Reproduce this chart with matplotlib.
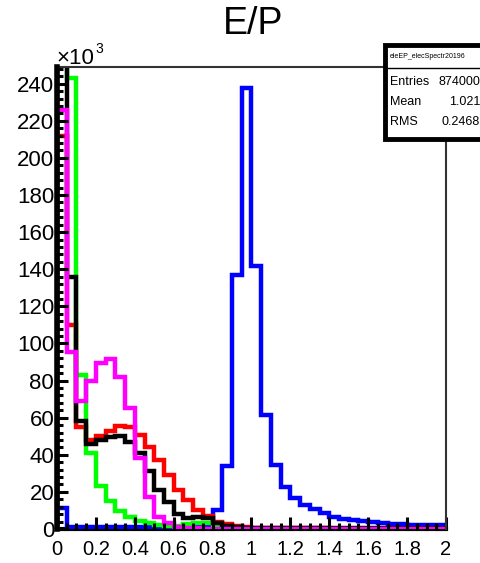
import numpy as np
import matplotlib.pyplot as plt
from matplotlib.ticker import MultipleLocator
from matplotlib.patches import Rectangle
import matplotlib as mpl
mpl.rcParams["font.family"] = ["Liberation Sans", "DejaVu Sans"]
mpl.rcParams["font.size"] = 14

# bin contents in units of 10^3, 40 bins from 0 to 2
blue = [11.5, 1, 1, 1, 1, 1, 1, 1, 1, 1, 1, 1, 1, 1, 1, 1.5, 10, 34, 137, 237.5,
        142, 61.5, 34.5, 22.6, 16.7, 13, 10.8, 8.6, 6.5, 5.4,
        4.8, 4.3, 3.8, 3.2, 2.9, 2.6, 2.4, 2.2, 2.0, 2.0]
red = [212, 110, 55, 48, 50, 53, 55.5, 55, 50.7, 44.4, 37, 29, 21, 15.6, 10.5, 7, 3.8, 2.5, 1.5, 1.0,
       0.8, 0.6, 0.5, 0.4, 0.4, 0.3, 0.3, 0.3, 0.2, 0.2,
       0.2, 0.2, 0.2, 0.1, 0.1, 0.1, 0.1, 0.1, 0.1, 0.1]
green = [300, 243, 83, 40.8, 23, 15, 9.5, 6.2, 4.3, 3, 2, 1.5, 1.5, 2.5, 3, 3, 1, 0.5, 0.3, 0.2,
         0.1, 0.1, 0.1, 0.1, 0, 0, 0, 0, 0, 0,
         0, 0, 0, 0, 0, 0, 0, 0, 0, 0]
black = [400, 136, 58, 46, 48, 49.5, 50, 47, 40.8, 31, 21, 14.5, 8, 6, 6.2, 6, 3.5, 1.5, 1.0, 0.8,
         0.7, 0.7, 0.6, 0.6, 0.6, 0.5, 0.5, 0.5, 0.5, 0.5,
         0.5, 0.5, 0.5, 0.5, 0.5, 0.5, 0.5, 0.5, 0.5, 0.5]
magenta = [226, 95.6, 69, 80, 89.5, 91.5, 82, 65, 38.5, 17, 6.5, 3, 1, 0.5, 0.3, 0.2, 0.1, 0.1, 0, 0,
           0, 0, 0, 0, 0, 0, 0, 0, 0, 0,
           0, 0, 0, 0, 0, 0, 0, 0, 0, 0]
edges = np.linspace(0, 2, 41)

xticks = [0, 0.2, 0.4, 0.6, 0.8, 1.0, 1.2, 1.4, 1.6, 1.8, 2.0]
xlabels = ["0", "0.2", "0.4", "0.6", "0.8", "1", "1.2", "1.4", "1.6", "1.8", "2"]
yticks = list(range(0, 241, 20))

W, H = 481, 563
fig = plt.figure(figsize=(W / 100, H / 100), dpi=100)
ax = fig.add_axes([57 / W, 1 - 529 / H, (446 - 57) / W, (529 - 67) / H])

for vals, col in [(blue, "#0000ff"), (red, "#ff0000"), (green, "#00ff00"),
                  (black, "black"), (magenta, "#ff00ff")]:
    ax.stairs(vals, edges, baseline=0, color=col, lw=3.2, zorder=1)

ax.set_xlim(0, 2)
ax.set_ylim(0, 249)
ax.set_xticks(xticks)
ax.set_xticklabels(xlabels)
ax.set_yticks(yticks)
ax.xaxis.set_minor_locator(MultipleLocator(0.05))
ax.yaxis.set_minor_locator(MultipleLocator(4))
ax.tick_params(which="both", direction="in", width=2.2, color="black")
ax.tick_params(axis="x", which="major", length=9, pad=8, labelsize=14.5)
ax.tick_params(axis="x", which="minor", length=4.5)
ax.tick_params(axis="y", which="major", length=8, pad=2, labelsize=16)
ax.tick_params(axis="y", which="minor", length=4)
ax.tick_params(top=False, right=False)

for s in ["top", "right"]:
    ax.spines[s].set_linewidth(1.5)
    ax.spines[s].set_color("#333333")
ax.spines["left"].set_linewidth(4)
ax.spines["left"].set_zorder(3)
ax.spines["bottom"].set_linewidth(3)
ax.spines["bottom"].set_zorder(0.5)

fig.text(0.526, 0.958, "E/P", fontsize=27, ha="center", va="center")
fig.text(56 / W, 1 - 64 / H, "\u00d710", fontsize=16, ha="left", va="baseline")
fig.text(95 / W, 1 - 53 / H, "3", fontsize=10, ha="left", va="baseline")

# stats box
box = Rectangle((385 / W, 1 - 139 / H), 0.3, (139 - 45) / H, transform=fig.transFigure,
                facecolor="white", edgecolor="black", lw=3.5, zorder=10, clip_on=False)
fig.add_artist(box)
fig.add_artist(plt.Line2D([385 / W, 1], [1 - 68 / H] * 2, transform=fig.transFigure,
                          color="black", lw=1, zorder=11))
fig.text(390 / W, 1 - 57 / H, "eleEP_elecSpectr20196", fontsize=5, va="center", zorder=12)
for lab, val, yy in [("Entries", "874000", 82), ("Mean", "1.021", 102), ("RMS", "0.2468", 122)]:
    fig.text(390 / W, 1 - yy / H, lab, fontsize=9, va="center", zorder=12)
    fig.text(480 / W, 1 - yy / H, val, fontsize=9, va="center", ha="right", zorder=12)

plt.savefig("out.png", dpi=100)
